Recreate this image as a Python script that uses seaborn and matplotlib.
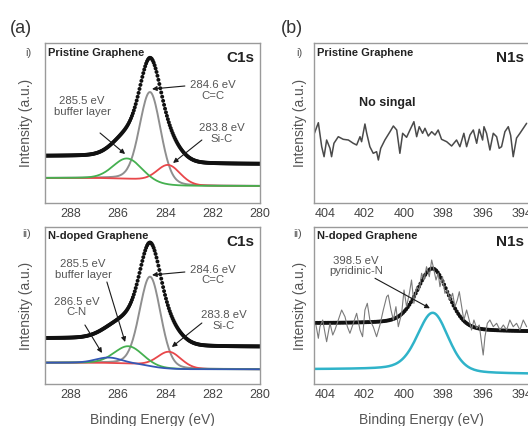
import numpy as np
import matplotlib
matplotlib.use("Agg")
import matplotlib.pyplot as plt
from matplotlib.ticker import MultipleLocator
import seaborn as sns

# ---------------- data ----------------
# C1s, pristine graphene: fitted components (centre eV, height a.u., FWHM eV)
c1s_i_names = ["C=C", "Si-C", "buffer layer"]
c1s_i_center = [284.65, 283.88, 285.62]
c1s_i_height = [90.0, 20.0, 20.5]
c1s_i_fwhm = [1.05, 1.20, 1.40]
c1s_i_bg = [25.0, 17.0]        # background level at high / low binding energy
c1s_i_env_bg = [47.0, 39.0]    # envelope background high / low

# C1s, N-doped graphene
c1s_ii_names = ["C=C", "Si-C", "buffer layer", "C-N"]
c1s_ii_center = [284.65, 283.85, 285.57, 286.40]
c1s_ii_height = [89.5, 16.8, 17.5, 5.5]
c1s_ii_fwhm = [1.05, 1.20, 1.40, 1.30]
c1s_ii_bg = [21.3, 14.7]
c1s_ii_env_bg = [45.7, 37.3]
c1s_eta = 0.15                 # Lorentzian fraction of the line shape

# N1s, N-doped graphene: pyridinic-N component
n1s_center = [398.52]
n1s_height = [58.8]
n1s_fwhm = [1.85]
n1s_bg = [14.7, 10.0]
n1s_env_bg = [60.7, 52.3]
n1s_eta = 0.3

# N1s raw spectrum, pristine graphene (energy eV, intensity a.u.)
n1s_i_raw_e = [404.53, 404.33, 404.16, 404.04, 403.91, 403.74, 403.66, 403.54, 403.32, 403.07,
               402.81, 402.56, 402.39, 402.22, 402.14, 401.97, 401.88, 401.72, 401.55, 401.38,
               401.29, 401.17, 400.96, 400.70, 400.53, 400.36, 400.20, 400.06, 399.86, 399.69,
               399.49, 399.35, 399.22, 399.05, 398.93, 398.76, 398.59, 398.42, 398.26, 398.09,
               397.83, 397.58, 397.33, 397.16, 396.96, 396.82, 396.65, 396.48, 396.31, 396.18,
               396.01, 395.94, 395.81, 395.64, 395.47, 395.30, 395.17, 395.05, 394.88, 394.71,
               394.59, 394.46, 394.29, 394.12, 393.95, 393.78]
n1s_i_raw_y = [69.7, 80.3, 56.3, 46.3, 63.0, 54.7, 46.3, 59.7, 66.3, 63.7,
               63.0, 59.7, 58.0, 66.3, 61.3, 79.0, 69.7, 56.3, 49.7, 51.3,
               43.0, 54.7, 63.0, 71.3, 77.0, 73.0, 49.7, 69.7, 65.7, 73.0,
               81.3, 66.3, 76.3, 69.7, 74.7, 67.0, 71.3, 68.0, 73.0, 63.7,
               61.3, 57.0, 63.0, 56.3, 69.7, 56.3, 68.0, 73.0, 59.7, 73.7,
               63.0, 76.3, 69.7, 53.0, 69.7, 66.3, 54.7, 56.3, 71.3, 76.3,
               67.7, 46.3, 65.0, 69.7, 74.7, 79.7]

# N1s raw spectrum, N-doped graphene
n1s_ii_raw_e = [404.45, 404.33, 404.25, 404.11, 403.99, 403.91, 403.74, 403.60, 403.49, 403.32,
                403.15, 402.98, 402.86, 402.73, 402.56, 402.39, 402.22, 402.09, 401.97, 401.85,
                401.72, 401.55, 401.38, 401.21, 401.04, 400.87, 400.79, 400.65, 400.53, 400.40,
                400.28, 400.11, 399.99, 399.86, 399.72, 399.61, 399.49, 399.35, 399.22, 399.10,
                398.98, 398.85, 398.71, 398.59, 398.51, 398.37, 398.26, 398.17, 398.04, 397.92,
                397.80, 397.66, 397.53, 397.41, 397.29, 397.19, 397.07, 396.96, 396.82, 396.69,
                396.57, 396.45, 396.31, 396.18, 396.06, 395.98, 395.89, 395.77, 395.64, 395.47,
                395.30, 395.13, 394.96, 394.79, 394.63, 394.46, 394.29, 394.12, 393.95, 393.78]
n1s_ii_raw_y = [59.0, 45.7, 57.3, 64.0, 50.7, 42.3, 60.7, 49.0, 54.0, 64.0,
                74.0, 67.3, 57.3, 50.7, 60.7, 70.7, 54.0, 47.3, 74.0, 80.7,
                64.0, 57.3, 47.3, 59.0, 74.0, 87.3, 89.0, 74.0, 64.0, 77.3,
                57.3, 70.7, 94.0, 77.3, 90.7, 104.0, 80.7, 97.3, 94.0, 110.7,
                104.0, 117.3, 107.3, 124.0, 117.3, 104.0, 110.7, 97.3, 107.3, 90.7,
                94.0, 84.0, 90.7, 77.3, 84.0, 92.3, 77.3, 64.0, 74.0, 64.0,
                54.0, 64.0, 55.7, 59.0, 40.7, 29.0, 47.3, 60.7, 64.0, 57.3,
                60.7, 54.0, 59.0, 54.0, 64.0, 57.3, 60.7, 54.0, 64.0, 57.3]

c1s_ticks = [288, 286, 284, 282, 280]
n1s_ticks = [404, 402, 400, 398, 396, 394]

# ---------------- helpers ----------------
def line_shape(e, c, h, fwhm, eta):
    s = fwhm / 2.3548
    g = np.exp(-0.5 * ((e - c) / s) ** 2)
    l = 1.0 / (1.0 + ((e - c) / (fwhm / 2)) ** 2)
    return h * ((1 - eta) * g + eta * l)

def shirley(e, total, hi, lo):
    cum = np.cumsum(total)
    return lo + (hi - lo) * cum / cum[-1]

# ---------------- style ----------------
sns.set_theme(style="white")
plt.rcParams["font.family"] = ["Liberation Sans", "DejaVu Sans"]
TXT = "#555555"
SPINE = "#9a9a9a"
NARROW = ["Liberation Sans Narrow", "Liberation Sans", "DejaVu Sans"]

W, H = 528, 426
fig = plt.figure(figsize=(W / 100, H / 100), dpi=100)

def make_ax(left, top, bottom, width=215):
    return fig.add_axes([left / W, 1 - bottom / H, width / W, (bottom - top) / H])

ax_ai = make_ax(45, 43, 203)
ax_aii = make_ax(45, 227, 384)
ax_bi = make_ax(314, 43, 203)
ax_bii = make_ax(314, 227, 384)

def style_ax(ax, xlim, ticks, ylim, ylabel_x, xlabel):
    ax.set_xlim(*xlim)
    ax.set_ylim(*ylim)
    ax.set_xticks(ticks)
    ax.set_xticklabels([str(t) for t in ticks], family=NARROW)
    ax.xaxis.set_minor_locator(MultipleLocator(1))
    ax.set_yticks([])
    ax.tick_params(axis="x", which="major", direction="in", length=3, width=0.8,
                   color=SPINE, labelsize=9, labelcolor="#444444", pad=3.5)
    ax.tick_params(axis="x", which="minor", direction="in", length=2, width=0.8, color=SPINE)
    for sp in ax.spines.values():
        sp.set_color(SPINE)
        sp.set_linewidth(1.0)
    ax.set_ylabel("Intensity (a.u.)", fontsize=10, color=TXT)
    ax.yaxis.set_label_coords(ylabel_x, 0.5)
    if xlabel:
        ax.set_xlabel("Binding Energy (eV)", fontsize=10, color=TXT)
        ax.xaxis.set_label_coords(0.5, -29 / 157)
    else:
        ax.set_xlabel("")

def c1s_panel(ax, centers, heights, fwhms, bg, env_bg, colors):
    e = np.arange(279.9, 289.25, 0.04)
    comps = [line_shape(e, c, h, f, c1s_eta) for c, h, f in zip(centers, heights, fwhms)]
    total = np.sum(comps, axis=0)
    base = shirley(e, total, bg[0], bg[1])
    env = shirley(e, total, env_bg[0], env_bg[1]) + total
    for comp, col, lw in zip(comps, colors, [1.4, 1.3, 1.3, 1.3]):
        sns.lineplot(x=e, y=base + comp, ax=ax, color=col, lw=lw, sort=False, estimator=None)
    sns.scatterplot(x=e, y=env, ax=ax, color="#111111", s=8, edgecolor="none", linewidth=0)

# ---- (a) i
c1s_panel(ax_ai, c1s_i_center, c1s_i_height, c1s_i_fwhm, c1s_i_bg, c1s_i_env_bg,
          ["#8f8f8f", "#e8474a", "#45b050"])
style_ax(ax_ai, (289.1, 280.0), c1s_ticks, (0, 160), -0.054, False)

# ---- (a) ii
c1s_panel(ax_aii, c1s_ii_center, c1s_ii_height, c1s_ii_fwhm, c1s_ii_bg, c1s_ii_env_bg,
          ["#8f8f8f", "#e8474a", "#45b050", "#3558b5"])
style_ax(ax_aii, (289.1, 280.0), c1s_ticks, (0, 157), -0.054, True)

# ---- (b) i
sns.lineplot(x=n1s_i_raw_e, y=n1s_i_raw_y, ax=ax_bi, color="#4a4a4a", lw=1.1,
             sort=False, estimator=None)
style_ax(ax_bi, (404.55, 393.66), n1s_ticks, (0, 160), -0.033, False)

# ---- (b) ii
en = np.arange(393.4, 404.8, 0.08)
pk = line_shape(en, n1s_center[0], n1s_height[0], n1s_fwhm[0], n1s_eta)
base_n = shirley(en, pk, n1s_bg[0], n1s_bg[1])
env_n = shirley(en, pk, n1s_env_bg[0], n1s_env_bg[1]) + pk
sns.lineplot(x=n1s_ii_raw_e, y=n1s_ii_raw_y, ax=ax_bii, color="#7a7a7a", lw=0.8,
             sort=False, estimator=None)
sns.scatterplot(x=en, y=env_n, ax=ax_bii, color="#111111", s=8, edgecolor="none", linewidth=0)
sns.lineplot(x=en, y=base_n + pk, ax=ax_bii, color="#2fb3c9", lw=1.8, sort=False, estimator=None)
style_ax(ax_bii, (404.55, 393.66), n1s_ticks, (0, 157), -0.033, True)

# ---------------- texts ----------------
ARW = dict(arrowstyle="-|>", color="#1a1a1a", lw=0.8, mutation_scale=7, shrinkA=0, shrinkB=0)

def note(ax, txt, xy_text, tail, head):
    ax.text(*xy_text, txt, ha="center", va="center", fontsize=8.2, color=TXT, linespacing=1.05)
    ax.annotate("", xy=head, xytext=tail, arrowprops=ARW)

note(ax_ai, "284.6 eV\nC=C", (281.99, 112.5), (283.18, 117), (284.57, 114))
note(ax_ai, "285.5 eV\nbuffer layer", (287.53, 96.5), (286.77, 70), (285.71, 49))
note(ax_ai, "283.8 eV\nSi-C", (281.61, 69.5), (282.46, 63), (283.68, 40))

note(ax_aii, "285.5 eV\nbuffer layer", (287.49, 114.5), (286.48, 102), (285.71, 42))
note(ax_aii, "284.6 eV\nC=C", (281.99, 109), (283.18, 112), (284.57, 109))
note(ax_aii, "286.5 eV\nC-N", (287.75, 77), (287.41, 59), (286.69, 31))
note(ax_aii, "283.8 eV\nSi-C", (281.52, 63.5), (282.46, 61), (283.73, 37))

note(ax_bii, "398.5 eV\npyridinic-N", (402.42, 118), (401.46, 105.7), (398.68, 75.7))
ax_bi.text(400.85, 100, "No singal", ha="center", va="center", fontsize=9,
           fontweight="bold", color="#222222")

for ax, name, elem in [(ax_ai, "Pristine Graphene", "C1s"), (ax_aii, "N-doped Graphene", "C1s"),
                       (ax_bi, "Pristine Graphene", "N1s"), (ax_bii, "N-doped Graphene", "N1s")]:
    ax.text(0.012, 0.94 if ax in (ax_ai, ax_bi) else 0.945, name, transform=ax.transAxes,
            ha="left", va="center", fontsize=8, fontweight="bold", color="#222222")
    ax.text(0.975, 0.905, elem, transform=ax.transAxes, ha="right", va="center",
            fontsize=11, fontweight="bold", color="#222222")

fig.text(21 / W, 1 - 28.5 / H, "(a)", ha="center", va="center", fontsize=13, color="#333333")
fig.text(292 / W, 1 - 28.5 / H, "(b)", ha="center", va="center", fontsize=13, color="#333333")
for x, y, t in [(28, 52.5, "i)"), (26.5, 234, "ii)"), (299, 52.5, "i)"), (298, 234, "ii)")]:
    fig.text(x / W, 1 - y / H, t, ha="center", va="center", fontsize=8, color=TXT)

fig.savefig("out.png", dpi=100)
